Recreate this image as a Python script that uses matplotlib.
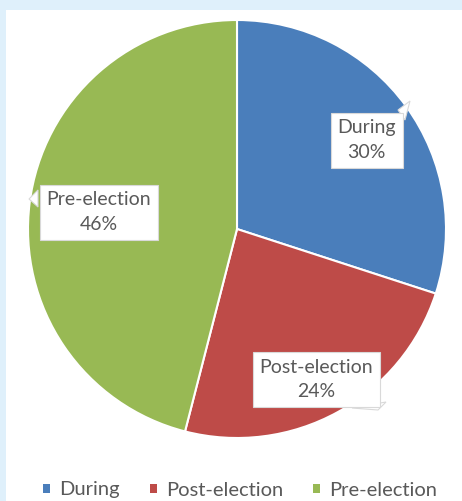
import matplotlib.pyplot as plt
from matplotlib.patches import Polygon, Rectangle

phases = ["During", "Post-election", "Pre-election"]
shares = [30, 24, 46]
colors = ["#4a7ebb", "#be4b48", "#98b954"]

# label box centres in axes-data units (pie radius = 1)
label_pos = [(0.62, 0.425), (0.38, -0.72), (-0.66, 0.08)]

W, H = 462, 501
cx, cy, r = 237, 229, 209


def px(x, y):
    """pixel position -> pie data units"""
    return ((x - cx) / r, (cy - y) / r)


# small callout tails (pixel corners) pointing from each box to its wedge
tails = [
    [(398, 110), (410, 101), (405, 120)],
    [(352, 408), (386, 402), (378, 410)],
    [(38, 190), (29, 199), (38, 207)],
]

fig = plt.figure(figsize=(W / 100, H / 100), dpi=100)
fig.patch.set_facecolor("white")

# light blue frame strip on top and left
fig.add_artist(Rectangle((0, 1 - 10 / H), 1, 10 / H, transform=fig.transFigure,
                         facecolor="#dff0fb", edgecolor="none"))
fig.add_artist(Rectangle((0, 0), 6 / W, 1, transform=fig.transFigure,
                         facecolor="#dff0fb", edgecolor="none"))

ax = fig.add_axes([(cx - r) / W, (H - cy - r) / H, 2 * r / W, 2 * r / H])
wedges, _ = ax.pie(
    shares,
    colors=colors,
    startangle=90,
    counterclock=False,
    radius=1,
    wedgeprops=dict(edgecolor="white", linewidth=1.5),
)
ax.set_xlim(-1.0, 1.0)
ax.set_ylim(-1.0, 1.0)
ax.set_aspect("equal")
ax.axis("off")

for tail in tails:
    ax.add_patch(Polygon([px(*p) for p in tail], closed=True,
                         facecolor="white", edgecolor="#d9d9d9",
                         linewidth=0.8, zorder=2.5))

for name, value, (x, y) in zip(phases, shares, label_pos):
    ax.text(
        x, y, f"{name}\n{value}%",
        ha="center", va="center",
        fontsize=14, color="#595959", family="Lato",
        linespacing=1.55, zorder=3,
        bbox=dict(boxstyle="square,pad=0.35", facecolor="white",
                  edgecolor="#d9d9d9", linewidth=0.8),
    )

handles = [Rectangle((0, 0), 1, 1, facecolor=c) for c in colors]
fig.legend(
    handles, phases,
    loc="center", bbox_to_anchor=(0.52, 1 - 490 / H),
    ncol=3, frameon=False,
    handlelength=0.35, handleheight=0.35, handletextpad=0.45,
    columnspacing=1.5,
    prop=dict(family="Lato", size=14.5),
    labelcolor="#595959",
)

fig.savefig("out.png", dpi=100)
